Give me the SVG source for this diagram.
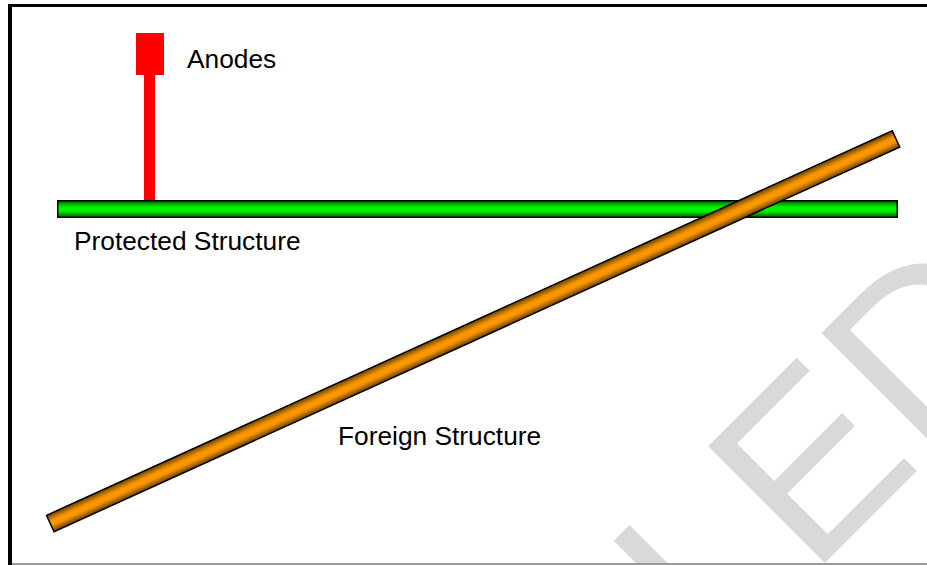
<svg xmlns="http://www.w3.org/2000/svg" width="927" height="565" viewBox="0 0 927 565">
  <style>
    .lbl { font-family: "Liberation Sans", Arial, sans-serif; font-size: 26.3px; fill: #000; }
    .wm { font-family: "Liberation Sans", Arial, sans-serif; font-size: 240px; fill: #d9d9d9; }
    .anode { fill: #ff0000; }
    .bar { stroke: #000; stroke-width: 1.5; }
  </style>
  <defs>
    <linearGradient id="gGreen" x1="0" y1="0" x2="0" y2="1">
      <stop offset="0" stop-color="#006000"/>
      <stop offset="0.35" stop-color="#00e800"/>
      <stop offset="0.5" stop-color="#00ff00"/>
      <stop offset="0.65" stop-color="#00e800"/>
      <stop offset="1" stop-color="#006000"/>
    </linearGradient>
    <linearGradient id="gOrange" x1="0" y1="0" x2="0" y2="1">
      <stop offset="0" stop-color="#6a4000"/>
      <stop offset="0.35" stop-color="#f09000"/>
      <stop offset="0.5" stop-color="#ff9900"/>
      <stop offset="0.65" stop-color="#f09000"/>
      <stop offset="1" stop-color="#6a4000"/>
    </linearGradient>
  </defs>
  <rect x="0" y="0" width="927" height="565" fill="#ffffff"/>
  <g id="watermark">
    <text class="wm" x="716.6" y="671.4" transform="rotate(-45 716.6 671.4)">LED</text>
  </g>
  <g id="frame">
    <line x1="10" y1="5.5" x2="927" y2="5.5" stroke="#000" stroke-width="3"/>
    <line x1="10" y1="4" x2="10" y2="565" stroke="#000" stroke-width="4"/>
    <line x1="12" y1="564" x2="927" y2="564" stroke="#999" stroke-width="2"/>
  </g>
  <g id="connectors">
    <rect class="anode" x="144" y="74" width="11" height="127"/>
  </g>
  <g id="anodes">
    <rect class="anode" x="136" y="33" width="28" height="42"/>
    <text class="lbl" x="187" y="68">Anodes</text>
  </g>
  <g id="protected-structure">
    <rect class="bar" x="57.75" y="200.75" width="839.5" height="16.5" fill="url(#gGreen)"/>
    <text class="lbl" x="74" y="250">Protected Structure</text>
  </g>
  <g id="foreign-structure">
    <rect class="bar" transform="translate(50.3 523.5) rotate(-24.45)" x="0" y="-9" width="929" height="18" fill="url(#gOrange)"/>
    <text class="lbl" x="338" y="445">Foreign Structure</text>
  </g>
</svg>
